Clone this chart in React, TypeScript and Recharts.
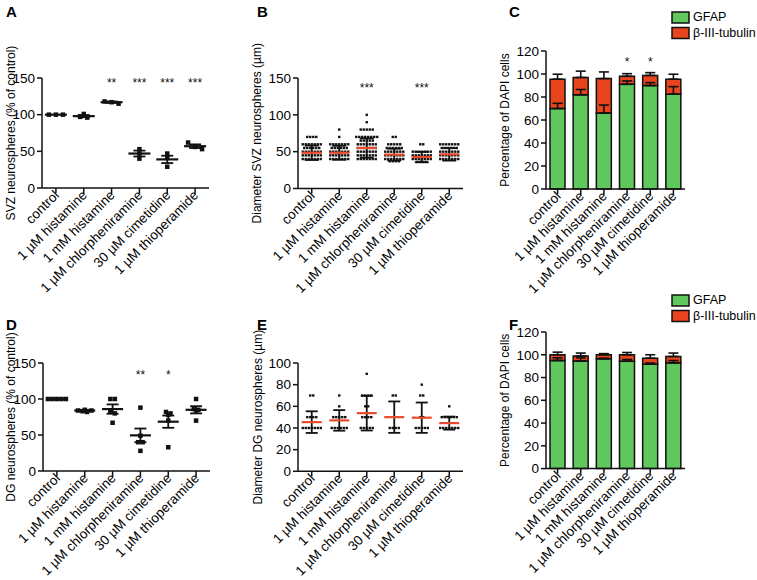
import React from 'react';
import {
  Bar,
  ComposedChart,
  ErrorBar,
  LabelList,
  Line,
  Scatter,
  ScatterChart,
  XAxis,
  YAxis,
} from 'recharts';

const FONT = '"Liberation Sans", Arial, Helvetica, sans-serif';
const INK = '#111';
const GREEN = '#60c85c';
const ORANGE = '#e8441d';
const MEAN_RED = '#e84a2c';

const treatments = [
  'control',
  '1 µM histamine',
  '1 mM histamine',
  '1 µM chlorpheniramine',
  '30 µM cimetidine',
  '1 µM thioperamide',
];

const pctTicks = [0, 50, 100, 150];
const svzDiamTicks = [0, 50, 100, 150];
const dgDiamTicks = [0, 20, 40, 60, 80, 100];
const cellTicks = [0, 20, 40, 60, 80, 100, 120];

// A - SVZ neurosphere number (% of control), one value per experiment
const svzNumber = [
  [100, 100, 100],
  [101, 97, 96],
  [118, 117, 115],
  [53, 47, 40],
  [47, 41, 29],
  [62, 56, 53],
];
const svzNumberMean = [100, 98, 117, 47, 39, 57];
const svzNumberSem = [0, 1.5, 1, 4, 5, 2.5];
const svzNumberSig = ['', '', '**', '***', '***', '***'];

// B - SVZ neurosphere diameter (µm): [value, number of spheres]
const svzDiameter: [number, number][][] = [
  [[70, 4], [60, 7], [55, 6], [50, 7], [45, 7], [40, 7]],
  [[80, 1], [70, 1], [60, 7], [55, 6], [50, 7], [45, 7], [40, 7]],
  [[100, 1], [90, 1], [80, 5], [70, 8], [65, 5], [60, 7], [55, 7], [50, 7], [45, 7], [40, 7]],
  [[70, 2], [60, 5], [55, 6], [50, 7], [45, 7], [40, 7], [37, 4]],
  [[60, 2], [50, 7], [45, 7], [40, 7], [36, 4]],
  [[60, 7], [55, 6], [50, 7], [45, 7], [40, 7]],
];
const svzDiameterMean = [48.5, 48.5, 55, 46, 42.7, 46.4];
const svzDiameterSd = [9.8, 9.5, 13, 8, 7, 8.5];
const svzDiameterSig = ['', '', '***', '', '***', ''];

// C - SVZ differentiation (% of DAPI cells)
const svzGfap = [70, 82, 66, 91, 90, 82.5];
const svzTubulin = [25.5, 15, 30, 7, 8.8, 13];
const svzGfapSem = [4.5, 4.5, 7, 3, 2.5, 6.5];
const svzTubulinSem = [4.3, 5.5, 5.8, 2.3, 2.4, 4.3];
const svzCellSig = ['', '', '', '*', '*', ''];

// D - DG neurosphere number (% of control)
const dgNumber = [
  [100, 100, 100, 100, 100],
  [85, 84, 83, 82, 84],
  [100, 100, 83, 80, 67],
  [88, 49, 40, 40, 28],
  [82, 80, 78, 70, 33],
  [100, 86, 85, 84, 70],
];
const dgNumberMean = [100, 84, 86, 49.5, 68.5, 85];
const dgNumberSem = [0, 1, 6.5, 9.5, 8.5, 5];
const dgNumberSig = ['', '', '', '**', '*', ''];

// E - DG neurosphere diameter (µm): [value, number of spheres]
const dgDiameter: [number, number][][] = [
  [[70, 2], [50, 4], [40, 7]],
  [[70, 1], [60, 1], [50, 5], [40, 6]],
  [[90, 1], [70, 4], [60, 2], [50, 4], [40, 5]],
  [[70, 2], [40, 4]],
  [[80, 1], [70, 2], [50, 2], [40, 5]],
  [[60, 1], [50, 6], [40, 7]],
];
const dgDiameterMean = [45.4, 47, 53.7, 50, 49.5, 44.5];
const dgDiameterSd = [10, 9.5, 16, 14.5, 14, 6];

// F - DG differentiation (% of DAPI cells)
const dgGfap = [95, 94.5, 96.5, 94.3, 91.7, 92.9];
const dgTubulin = [5, 4.5, 3.5, 5.7, 5.3, 5.6];
const dgGfapSem = [2.3, 2.8, 0.5, 1.5, 1, 2];
const dgTubulinSem = [2.3, 2.5, 1, 2, 3, 3];

type Box = { x0: number; x1: number; y0: number; y1: number };

const expand = (rows: [number, number][][]) =>
  rows.map((r) => r.flatMap(([v, n]) => Array(n).fill(v) as number[]));

// place dots of one column side by side when they would overlap (scatter dot plot layout)
function swarm(groups: number[][], pxPerUnit: number, stepPx: number, bandPx: number) {
  const pts: { x: number; y: number }[] = [];
  groups.forEach((vals, i) => {
    const rows = new Map<number, number[]>();
    vals.forEach((v) => {
      const k = Math.round((v * pxPerUnit) / Math.max(stepPx, 3));
      if (!rows.has(k)) rows.set(k, []);
      rows.get(k)!.push(v);
    });
    rows.forEach((row) =>
      row.forEach((v, k) =>
        pts.push({ x: i + ((k - (row.length - 1) / 2) * stepPx) / bandPx, y: v }),
      ),
    );
  });
  return pts;
}

const axisStyle = { stroke: INK, strokeWidth: 1.5 };
const yTick = { fontSize: 13.5, fill: '#000', fontFamily: FONT };

// slanted category label, its end sitting just under the tick
const SlantTick = (p: any) => {
  const v = p.payload?.value;
  const text = typeof v === 'number' ? treatments[v] : v;
  const x = p.x + 4;
  const y = p.y + 1;
  return (
    <text
      x={x}
      y={y}
      transform={`rotate(-45 ${x} ${y})`}
      textAnchor="end"
      fontSize={13.5}
      fontFamily={FONT}
      fill="#000"
    >
      {text}
    </text>
  );
};

const axisTitle = (text: string, x: number, y: number) => () => (
  <text
    x={x}
    y={y}
    transform={`rotate(-90 ${x} ${y})`}
    textAnchor="middle"
    fontSize={12}
    fontFamily={FONT}
    fill="#000"
  >
    {text}
  </text>
);

function DotPlot(props: {
  box: Box;
  yMax: number;
  yTicks: number[];
  title: string;
  titleX: number;
  groups: number[][];
  dot: number;
  step: number;
  mean: number[];
  spread: number[];
  meanColor: string;
  meanWidth: number;
  capHalf: number;
  sig?: string[];
  sigLevel?: number;
}) {
  const { box, yMax } = props;
  const left = box.x0 - 48;
  const top = box.y0 - 50;
  const width = box.x1 - left + 16;
  const height = box.y1 - top + 130;
  const pxPerUnit = (box.y1 - box.y0) / yMax;
  const bandPx = (box.x1 - box.x0) / treatments.length;
  const points = swarm(props.groups, pxPerUnit, props.step, bandPx);
  const meanData = props.mean.map((m, i) => ({ x: i, y: m, err: props.spread[i] }));
  const sigData = (props.sig ?? [])
    .map((s, i) => ({ x: i, y: props.sigLevel ?? 0, label: s }))
    .filter((d) => d.label);
  const d = props.dot;

  return (
    <div style={{ position: 'absolute', left, top }}>
      <ScatterChart width={width} height={height} margin={{ top: 50, right: 16, left: 0, bottom: 0 }}>
        <XAxis
          type="number"
          dataKey="x"
          domain={[-0.5, treatments.length - 0.5]}
          ticks={treatments.map((_, i) => i)}
          interval={0}
          height={130}
          tickSize={5}
          tick={SlantTick}
          axisLine={axisStyle}
          tickLine={axisStyle}
        />
        <YAxis
          type="number"
          dataKey="y"
          domain={[0, yMax]}
          ticks={props.yTicks}
          interval={0}
          width={48}
          tickSize={5}
          tick={yTick}
          axisLine={axisStyle}
          tickLine={axisStyle}
          label={{
            content: axisTitle(props.title, props.titleX - left, (box.y0 + box.y1) / 2 - top),
          }}
        />
        <Scatter
          data={points}
          isAnimationActive={false}
          shape={(p: any) => (
            <rect x={p.cx - d / 2} y={p.cy - d / 2} width={d} height={d} fill={INK} />
          )}
        />
        <Scatter
          data={meanData}
          isAnimationActive={false}
          shape={(p: any) => (
            <line
              x1={p.cx - props.meanWidth / 2}
              x2={p.cx + props.meanWidth / 2}
              y1={p.cy}
              y2={p.cy}
              stroke={props.meanColor}
              strokeWidth={2.2}
            />
          )}
        >
          <ErrorBar
            dataKey="err"
            direction="y"
            width={props.capHalf}
            stroke={INK}
            strokeWidth={1.8}
            isAnimationActive={false}
          />
        </Scatter>
        <Scatter
          data={sigData}
          isAnimationActive={false}
          shape={(p: any) => (
            <text x={p.cx} y={p.cy + 7} textAnchor="middle" fontSize={12} fontFamily={FONT} fill={INK}>
              {p.payload.label}
            </text>
          )}
        />
      </ScatterChart>
    </div>
  );
}

function StackPlot(props: {
  box: Box;
  title: string;
  titleX: number;
  gfap: number[];
  tub: number[];
  gfapSem: number[];
  tubSem: number[];
  sig?: string[];
  sigLevel?: number;
}) {
  const { box } = props;
  const left = box.x0 - 48;
  const top = box.y0 - 50;
  const width = box.x1 - left + 16;
  const height = box.y1 - top + 130;
  const rows = treatments.map((name, i) => ({
    name,
    gfap: props.gfap[i],
    tub: props.tub[i],
    gErr: [0, props.gfapSem[i]],
    tErr: [0, props.tubSem[i]],
    sig: props.sig?.[i] ?? '',
  }));

  return (
    <div style={{ position: 'absolute', left, top }}>
      <ComposedChart
        width={width}
        height={height}
        data={rows}
        margin={{ top: 50, right: 16, left: 0, bottom: 0 }}
      >
        <XAxis
          dataKey="name"
          interval={0}
          height={130}
          tickSize={5}
          tick={SlantTick}
          axisLine={axisStyle}
          tickLine={axisStyle}
        />
        <YAxis
          domain={[0, 120]}
          ticks={cellTicks}
          interval={0}
          width={48}
          tickSize={5}
          tick={yTick}
          axisLine={axisStyle}
          tickLine={axisStyle}
          label={{
            content: axisTitle(props.title, props.titleX - left, (box.y0 + box.y1) / 2 - top),
          }}
        />
        <Bar dataKey="gfap" stackId="s" fill={GREEN} stroke={INK} strokeWidth={1.5} barSize={15} isAnimationActive={false} />
        <Bar dataKey="tub" stackId="s" fill={ORANGE} stroke={INK} strokeWidth={1.5} barSize={15} isAnimationActive={false} />
        <Line dataKey="gfap" stroke="none" dot={false} activeDot={false} legendType="none" isAnimationActive={false}>
          <ErrorBar dataKey="gErr" direction="y" width={5} stroke={INK} strokeWidth={1.6} isAnimationActive={false} />
        </Line>
        <Line
          dataKey={(r: any) => r.gfap + r.tub}
          stroke="none"
          dot={false}
          activeDot={false}
          legendType="none"
          isAnimationActive={false}
        >
          <ErrorBar dataKey="tErr" direction="y" width={5} stroke={INK} strokeWidth={1.6} isAnimationActive={false} />
        </Line>
        {props.sig && (
          <Line
            dataKey={() => props.sigLevel}
            stroke="none"
            dot={false}
            activeDot={false}
            legendType="none"
            isAnimationActive={false}
          >
            <LabelList
              dataKey="sig"
              position="center"
              offset={0}
              style={{ fontSize: 12, fontFamily: FONT, fill: INK }}
            />
          </Line>
        )}
      </ComposedChart>
    </div>
  );
}

const letter = (t: string, x: number, y: number) => (
  <text key={t} x={x} y={y} fontSize={15} fontWeight="bold" fontFamily={FONT} fill="#000">
    {t}
  </text>
);

const legend = (y: number) => (
  <g fontFamily={FONT} fontSize={12.5} fill="#000">
    <rect x={672} y={y} width={17} height={11} fill={GREEN} stroke={INK} strokeWidth={1.5} />
    <text x={693} y={y + 9}>GFAP</text>
    <rect x={672} y={y + 15.5} width={17} height={11} fill={ORANGE} stroke={INK} strokeWidth={1.5} />
    <text x={693} y={y + 25}>β-III-tubulin</text>
  </g>
);

export default function App() {
  return (
    <div style={{ position: 'absolute', left: 0, top: 0, width: 757, height: 580, background: '#fff', overflow: 'hidden' }}>
      <DotPlot
        box={{ x0: 42, x1: 209, y0: 78, y1: 188 }}
        yMax={150}
        yTicks={pctTicks}
        title="SVZ neurospheres (% of control)"
        titleX={15}
        groups={svzNumber}
        dot={4.5}
        step={7}
        mean={svzNumberMean}
        spread={svzNumberSem}
        meanColor={INK}
        meanWidth={22}
        capHalf={6}
        sig={svzNumberSig}
        sigLevel={147}
      />
      <DotPlot
        box={{ x0: 298, x1: 463, y0: 77.5, y1: 188 }}
        yMax={150}
        yTicks={svzDiamTicks}
        title="Diameter SVZ neurospheres (µm)"
        titleX={261}
        groups={expand(svzDiameter)}
        dot={2.4}
        step={3}
        mean={svzDiameterMean}
        spread={svzDiameterSd}
        meanColor={MEAN_RED}
        meanWidth={20}
        capHalf={7}
        sig={svzDiameterSig}
        sigLevel={140}
      />
      <StackPlot
        box={{ x0: 546, x1: 685, y0: 51, y1: 189 }}
        title="Percentage of DAPI cells"
        titleX={509}
        gfap={svzGfap}
        tub={svzTubulin}
        gfapSem={svzGfapSem}
        tubSem={svzTubulinSem}
        sig={svzCellSig}
        sigLevel={111}
      />
      <DotPlot
        box={{ x0: 43, x1: 210, y0: 363, y1: 471 }}
        yMax={150}
        yTicks={pctTicks}
        title="DG neurospheres (% of control)"
        titleX={15}
        groups={dgNumber}
        dot={4.5}
        step={4.5}
        mean={dgNumberMean}
        spread={dgNumberSem}
        meanColor={INK}
        meanWidth={21}
        capHalf={6}
        sig={dgNumberSig}
        sigLevel={137}
      />
      <DotPlot
        box={{ x0: 298, x1: 463, y0: 362.7, y1: 471 }}
        yMax={100}
        yTicks={dgDiamTicks}
        title="Diameter DG neurospheres (µm)"
        titleX={262}
        groups={expand(dgDiameter)}
        dot={2.4}
        step={3}
        mean={dgDiameterMean}
        spread={dgDiameterSd}
        meanColor={MEAN_RED}
        meanWidth={20}
        capHalf={6}
      />
      <StackPlot
        box={{ x0: 546, x1: 685, y0: 331.7, y1: 468.3 }}
        title="Percentage of DAPI cells"
        titleX={509}
        gfap={dgGfap}
        tub={dgTubulin}
        gfapSem={dgGfapSem}
        tubSem={dgTubulinSem}
      />
      <svg width={757} height={580} style={{ position: 'absolute', left: 0, top: 0, pointerEvents: 'none' }}>
        {letter('A', 6, 17)}
        {letter('B', 257, 17)}
        {letter('C', 509, 17)}
        {letter('D', 6, 330)}
        {letter('E', 257, 330)}
        {letter('F', 509, 330)}
        {legend(12)}
        {legend(295)}
      </svg>
    </div>
  );
}
